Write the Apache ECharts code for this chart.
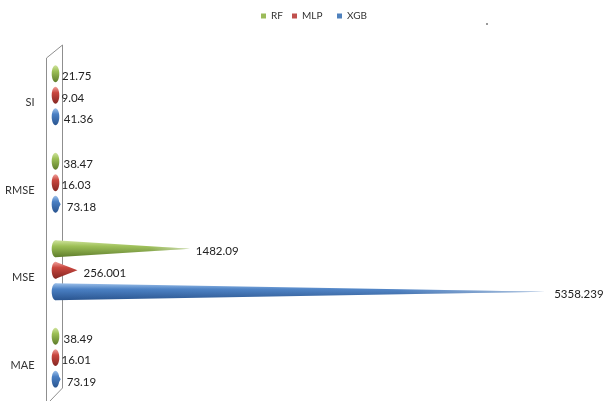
<!DOCTYPE html>
<html>
<head>
<meta charset="utf-8">
<script src="https://cdn.jsdelivr.net/npm/echarts@6/dist/echarts.min.js"></script>
<style>
  html, body { margin: 0; padding: 0; background: #ffffff; }
  #chart { width: 604px; height: 401px; }
</style>
</head>
<body>
<div id="chart"></div>
<script>
// Error metrics per model
const categories = ['SI', 'RMSE', 'MSE', 'MAE'];
const seriesNames = ['RF', 'MLP', 'XGB'];
const rfValues = [21.75, 38.47, 1482.09, 38.49];
const mlpValues = [9.04, 16.03, 256.001, 16.01];
const xgbValues = [41.36, 73.18, 5358.239, 73.19];

const seriesValues = [rfValues, mlpValues, xgbValues];

const FONT = 'Lato, "Liberation Sans", Arial, sans-serif';

// Cone palette: base colour, highlight, mid, shadow
const palette = [
  { base: '#9BBB59', light: '#cfe39c', mid: '#9cbf55', dark: '#5e7d2b' },
  { base: '#C0504D', light: '#f0a19c', mid: '#c9473f', dark: '#852723' },
  { base: '#4F81BD', light: '#9cc0ea', mid: '#4a80c4', dark: '#2a5590' }
];
// Position of each model's cone inside a category band (fraction of band)
const bandOffsets = [-0.331, -0.086, 0.16];
const coneThickness = 0.194;

function makeRenderItem(sIdx) {
  const c = palette[sIdx];
  return function (params, api) {
    const val = api.value(0);
    const cat = api.value(1);
    const tip = api.coord([val, cat]);
    const base = api.coord([0, cat]);
    const band = api.size([0, 1])[1];
    const cy = tip[1] + band * bandOffsets[sIdx];
    const h = band * coneThickness / 2;
    const x0 = base[0] + 1.5;
    const tx = Math.max(tip[0], x0);
    const rx = 3.8;
    const vGrad = new echarts.graphic.LinearGradient(0, 0, 0, 1, [
      { offset: 0, color: c.light },
      { offset: 0.35, color: c.mid },
      { offset: 1, color: c.dark }
    ]);
    const children = [
      {
        type: 'ellipse',
        shape: { cx: x0, cy: cy, rx: rx, ry: h },
        style: { fill: vGrad }
      },
      {
        type: 'polygon',
        shape: { points: [[x0, cy - h], [tip[0], cy], [x0, cy + h]] },
        style: { fill: vGrad }
      }
    ];
    if (tip[0] - x0 > 40) {
      children.push({
        type: 'polygon',
        shape: { points: [[x0, cy - h], [tip[0], cy], [x0, cy + h]] },
        style: {
          fill: new echarts.graphic.LinearGradient(0, 0, 1, 0, [
            { offset: 0, color: 'rgba(255,255,255,0)' },
            { offset: 0.7, color: 'rgba(255,255,255,0.05)' },
            { offset: 1, color: 'rgba(255,255,255,0.55)' }
          ])
        }
      });
    }
    children.push({
      type: 'text',
      style: {
        x: tx + (val > 3000 ? 9 : 6),
        y: cy + 3,
        text: String(val),
        fill: '#222222',
        font: '11.5px ' + FONT,
        verticalAlign: 'middle',
        align: 'left'
      }
    });
    return { type: 'group', children: children };
  };
}

const chart = echarts.init(document.getElementById('chart'), null, { renderer: 'canvas' });

// One legend block per model so each swatch sits where it belongs
const legendLefts = [256, 287, 332];
const legends = seriesNames.map(function (name, i) {
  return {
    data: [name],
    left: legendLefts[i],
    top: 6,
    icon: 'rect',
    itemWidth: 5,
    itemHeight: 5,
    textStyle: { fontSize: 10, color: '#333333', fontFamily: FONT }
  };
});

const option = {
  backgroundColor: '#ffffff',
  animation: false,
  legend: legends,
  grid: { left: 54, top: 59, right: 55, bottom: 0 },
  xAxis: {
    type: 'value',
    min: 0,
    max: 5400,
    show: false
  },
  yAxis: {
    type: 'value',
    inverse: true,
    min: -0.5,
    max: 3.41,
    axisLine: { show: false },
    axisTick: { show: false },
    splitLine: { show: false },
    axisLabel: {
      customValues: [0, 1, 2, 3],
      formatter: function (v) { return categories[Math.round(v)]; },
      margin: 19.5,
      fontSize: 11,
      color: '#333333',
      fontFamily: FONT
    }
  },
  graphic: [
    {
      type: 'polyline',
      z: 0,
      shape: { points: [[46.5, 401], [46.5, 58], [62.5, 45], [62.5, 388], [50, 401]] },
      style: { stroke: '#8f8f8f', lineWidth: 1, fill: null }
    },
    {
      type: 'circle',
      z: 0,
      shape: { cx: 487, cy: 24, r: 1 },
      style: { fill: '#777777' }
    }
  ],
  series: seriesNames.map(function (name, i) {
    return {
      type: 'custom',
      name: name,
      z: 3,
      itemStyle: { color: palette[i].base },
      encode: { x: 0, y: 1 },
      data: seriesValues[i].map(function (v, k) { return [v, k]; }),
      renderItem: makeRenderItem(i)
    };
  })
};

chart.setOption(option);
</script>
</body>
</html>
